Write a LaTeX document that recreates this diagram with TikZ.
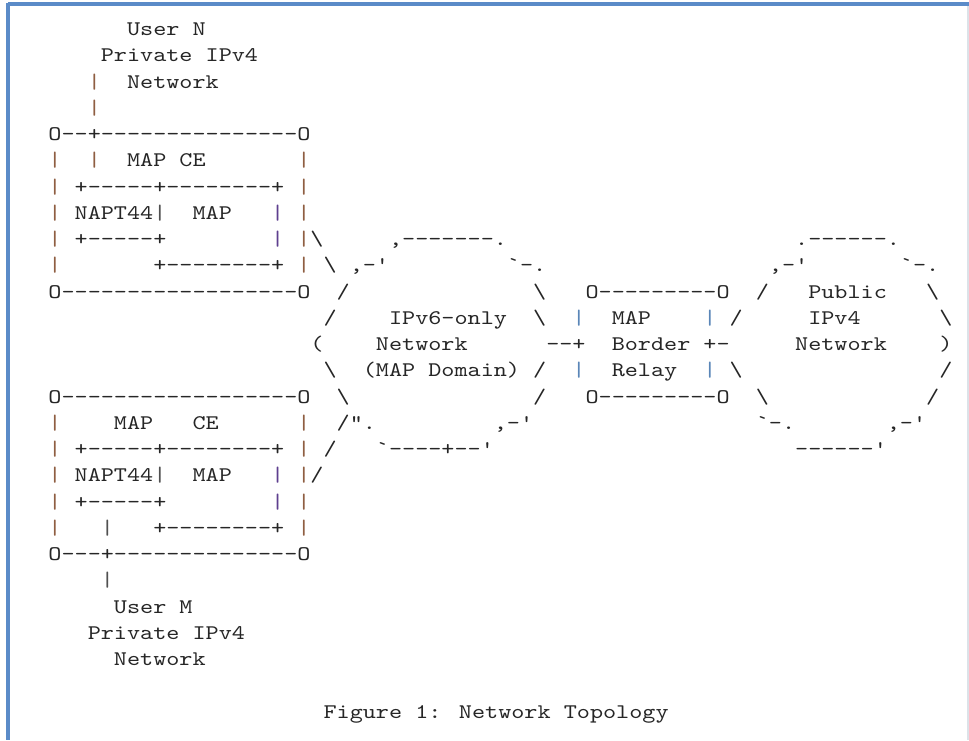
\documentclass[tikz,border=0pt]{standalone}
\usepackage{fontspec}
\usepackage{xcolor}
\usepackage{tikz}
\newfontfamily\asciifont{lmmono10-regular.otf}[FakeStretch=1.2, Ligatures=TeXOff]
\definecolor{asciiink}{HTML}{262626}
\definecolor{cebar}{HTML}{8F5E42}
\definecolor{innerbar}{HTML}{5E3F8F}
\definecolor{relaybar}{HTML}{5A86B8}
\definecolor{stembar}{HTML}{505050}
\definecolor{frameblue}{HTML}{5B8BC8}
\definecolor{framegray}{HTML}{DCE2E8}
\tikzset{
ascii/.style={
  font=\asciifont\fontsize{10.4}{13}\selectfont,
  text=asciiink,
  inner sep=0pt,
  outer sep=0pt,
  anchor=base west
},
ce bar/.style={ascii, text=cebar},
inner bar/.style={ascii, text=innerbar},
relay bar/.style={ascii, text=relaybar},
stem bar/.style={ascii, text=stembar}
}
% one token of the character grid: [style]{column}{row}{text}
\newcommand{\asciitok}[4][]{\node[ascii,#1] (a#3c#2) at ({48.45+13.1*#2},{35.5+26.25*#3}) {#4};}
\newcommand{\bs}{\textbackslash}

\begin{document}
\begin{tikzpicture}[x=0.5pt,y=-0.5pt]
\useasboundingbox (0,0) rectangle (969,740);
\fill[white] (0,0) rectangle (969,740);
% page frame
\draw[framegray, line width=1pt] (967.5,4) -- (967.5,740);
\draw[frameblue, line width=2pt] (8,4) -- (969,4);
\draw[frameblue, line width=2pt] (8,3) -- (8,740);

% upper MAP CE
\asciitok{6}{0}{User N}
\asciitok{4}{1}{Private IPv4}
\asciitok[ce bar]{3}{2}{|}
\asciitok{6}{2}{Network}
\asciitok[ce bar]{3}{3}{|}
\asciitok{0}{4}{O--+---------------O}
\asciitok[ce bar]{0}{5}{|}
\asciitok[ce bar]{3}{5}{|}
\asciitok{6}{5}{MAP CE}
\asciitok[ce bar]{19}{5}{|}
\asciitok[ce bar]{0}{6}{|}
\asciitok{2}{6}{+-----+--------+}
\asciitok[ce bar]{19}{6}{|}
\asciitok[ce bar]{0}{7}{|}
\asciitok{2}{7}{NAPT44}
\asciitok[stem bar]{8}{7}{|}
\asciitok{11}{7}{MAP}
\asciitok[inner bar]{17}{7}{|}
\asciitok[ce bar]{19}{7}{|}
\asciitok[ce bar]{0}{8}{|}
\asciitok{2}{8}{+-----+}
\asciitok[inner bar]{17}{8}{|}
\asciitok[ce bar]{19}{8}{|}
\asciitok{20}{8}{\bs}
\asciitok[ce bar]{0}{9}{|}
\asciitok{8}{9}{+--------+}
\asciitok[ce bar]{19}{9}{|}
\asciitok{21}{9}{\bs}
\asciitok{0}{10}{O------------------O}

% IPv6-only network
\asciitok{26}{8}{,-------.}
\asciitok{23}{9}{,-'}
\asciitok{35}{9}{`-.}
\asciitok{22}{10}{/}
\asciitok{37}{10}{\bs}
\asciitok{21}{11}{/}
\asciitok{26}{11}{IPv6-only}
\asciitok{37}{11}{\bs}
\asciitok{20}{12}{(}
\asciitok{25}{12}{Network}
\asciitok{38}{12}{--+}
\asciitok{21}{13}{\bs}
\asciitok{24}{13}{(MAP Domain)}
\asciitok{37}{13}{/}
\asciitok{22}{14}{\bs}
\asciitok{37}{14}{/}
\asciitok{22}{15}{/".}
\asciitok{34}{15}{,-'}
\asciitok{21}{16}{/}
\asciitok{25}{16}{`----+--'}

% border relay
\asciitok{41}{10}{O---------O}
\asciitok[relay bar]{40}{11}{|}
\asciitok{43}{11}{MAP}
\asciitok[relay bar]{50}{11}{|}
\asciitok{43}{12}{Border}
\asciitok{50}{12}{+-}
\asciitok[relay bar]{40}{13}{|}
\asciitok{43}{13}{Relay}
\asciitok[relay bar]{50}{13}{|}
\asciitok{41}{14}{O---------O}
\asciitok{54}{10}{/}
\asciitok{52}{11}{/}
\asciitok{52}{13}{\bs}
\asciitok{54}{14}{\bs}

% public IPv4 network
\asciitok{57}{8}{.------.}
\asciitok{55}{9}{,-'}
\asciitok{65}{9}{`-.}
\asciitok{58}{10}{Public}
\asciitok{67}{10}{\bs}
\asciitok{58}{11}{IPv4}
\asciitok{68}{11}{\bs}
\asciitok{57}{12}{Network}
\asciitok{68}{12}{)}
\asciitok{68}{13}{/}
\asciitok{67}{14}{/}
\asciitok{54}{15}{`-.}
\asciitok{64}{15}{,-'}
\asciitok{57}{16}{------'}

% lower MAP CE
\asciitok{0}{14}{O------------------O}
\asciitok[ce bar]{0}{15}{|}
\asciitok{5}{15}{MAP}
\asciitok{11}{15}{CE}
\asciitok[ce bar]{19}{15}{|}
\asciitok[ce bar]{0}{16}{|}
\asciitok{2}{16}{+-----+--------+}
\asciitok[ce bar]{19}{16}{|}
\asciitok[ce bar]{0}{17}{|}
\asciitok{2}{17}{NAPT44}
\asciitok[stem bar]{8}{17}{|}
\asciitok{11}{17}{MAP}
\asciitok[inner bar]{17}{17}{|}
\asciitok[ce bar]{19}{17}{|}
\asciitok{20}{17}{/}
\asciitok[ce bar]{0}{18}{|}
\asciitok{2}{18}{+-----+}
\asciitok[inner bar]{17}{18}{|}
\asciitok[ce bar]{19}{18}{|}
\asciitok[ce bar]{0}{19}{|}
\asciitok[stem bar]{4}{19}{|}
\asciitok{8}{19}{+--------+}
\asciitok[ce bar]{19}{19}{|}
\asciitok{0}{20}{O---+--------------O}
\asciitok[stem bar]{4}{21}{|}
\asciitok{5}{22}{User M}
\asciitok{3}{23}{Private IPv4}
\asciitok{5}{24}{Network}

\asciitok{21}{26}{Figure 1: Network Topology}
\end{tikzpicture}
\end{document}
